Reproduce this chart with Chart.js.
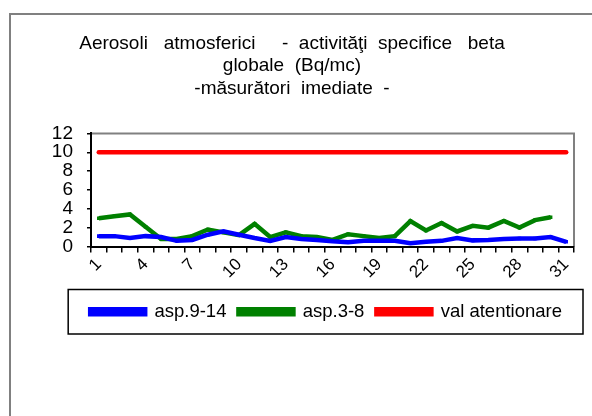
<!DOCTYPE html>
<html>
<head>
<meta charset="utf-8">
<script src="https://cdn.jsdelivr.net/npm/chart.js@4"></script>
<style>
  html, body { margin: 0; padding: 0; background: #fff; }
  #wrap { position: absolute; left: 0; top: 0; width: 592px; height: 416px; }
</style>
</head>
<body>
<div id="wrap"><canvas id="grafic" width="592" height="416"></canvas></div>
<script>
// zilele lunii
const days = [];
for (let d = 1; d <= 31; d++) days.push(String(d));

// titlul (spatiile largi ca in original)
const titleLines = [
    'Aerosoli   atmosferici     -  activităţi  specifice   beta',
    'globale  (Bq/mc)',
    '-măsurători  imediate  -'
];

// valori (Bq/mc)
const asp9_14 = [1.1, 1.1, 0.9, 1.1, 1.0, 0.6, 0.7, 1.25, 1.6, 1.25,
                 0.9, 0.6, 1.0, 0.8, 0.7, 0.55, 0.45, 0.6, 0.6, 0.6,
                 0.35, 0.5, 0.6, 0.9, 0.65, 0.7, 0.8, 0.85, 0.85, 1.0, 0.5];
const asp3_8 = [3.0, 3.2, 3.4, 2.1, 0.8, 0.8, 1.1, 1.8, 1.5, 1.2,
                2.4, 1.0, 1.5, 1.1, 1.0, 0.7, 1.3, 1.1, 0.9, 1.1,
                2.7, 1.7, 2.5, 1.6, 2.2, 2.0, 2.7, 2.0, 2.8, 3.1, null];
const valAtentionare = days.map(() => 10);

const yTicks = [0, 2, 4, 6, 8, 10, 12];

const FONT = 'Liberation Sans, Arial, sans-serif';

// cadru exterior + chenar zona grafic + chenar legenda
const frames = {
    id: 'frames',
    beforeDraw(chart) {
        const c = chart.ctx;
        c.save();
        c.strokeStyle = '#808080';
        c.lineWidth = 2;
        c.beginPath();
        c.moveTo(10, 416);
        c.lineTo(10, 14);
        c.lineTo(592, 14);
        c.stroke();

        const a = chart.chartArea;
        c.beginPath();
        c.moveTo(a.left, a.top);
        c.lineTo(a.right, a.top);
        c.lineTo(a.right, a.bottom);
        c.stroke();

        const boxes = chart.legend.legendHitBoxes;
        if (boxes && boxes.length) {
            let l = Infinity, r = -Infinity, t = Infinity, b = -Infinity;
            boxes.forEach(h => {
                l = Math.min(l, h.left); r = Math.max(r, h.left + h.width);
                t = Math.min(t, h.top); b = Math.max(b, h.top + h.height);
            });
            c.lineWidth = 1.5;
            c.strokeStyle = '#000';
            c.strokeRect(l - 22, t - 13, (r - l) + 43, (b - t) + 26);
        }
        c.restore();
    }
};

new Chart(document.getElementById('grafic'), {
    type: 'line',
    data: {
        labels: days,
        datasets: [
            {
                label: 'asp.9-14',
                data: asp9_14,
                borderColor: '#0000ff',
                backgroundColor: '#0000ff',
                borderWidth: 4.5,
                pointStyle: 'rect',
                pointRadius: 2.5,
                pointBorderWidth: 0,
                tension: 0
            },
            {
                label: 'asp.3-8',
                data: asp3_8,
                borderColor: '#008000',
                backgroundColor: '#008000',
                borderWidth: 4.5,
                pointStyle: 'rect',
                pointRadius: 2.5,
                pointBorderWidth: 0,
                tension: 0
            },
            {
                label: 'val atentionare',
                data: valAtentionare,
                borderColor: '#ff0000',
                backgroundColor: '#ff0000',
                borderWidth: 4.5,
                borderCapStyle: 'round',
                pointRadius: 0,
                tension: 0
            }
        ]
    },
    options: {
        responsive: false,
        animation: false,
        events: [],
        layout: { padding: { left: 10, right: 18, top: 0, bottom: 85 } },
        plugins: {
            title: {
                display: true,
                text: titleLines,
                color: '#000',
                font: { family: FONT, size: 19, weight: 'normal', lineHeight: 1.2 },
                padding: { top: 32, bottom: 33 }
            },
            legend: {
                position: 'bottom',
                align: 'end',
                labels: {
                    color: '#000',
                    font: { family: FONT, size: 18.5 },
                    boxWidth: 55,
                    boxHeight: 5,
                    padding: 12
                }
            },
            tooltip: { enabled: false }
        },
        scales: {
            x: {
                offset: true,
                grid: { offset: true, drawOnChartArea: false, tickLength: 6, color: '#000', lineWidth: 1.5 },
                border: { color: '#000', width: 2 },
                ticks: {
                    autoSkip: false,
                    minRotation: 45,
                    maxRotation: 45,
                    padding: 2,
                    color: '#000',
                    font: { family: FONT, size: 17 },
                    callback: function (v, i) { return i % 3 === 0 ? days[i] : ''; }
                },
                afterFit: function (s) { s.height = 44; }
            },
            y: {
                min: 0,
                max: 12,
                afterBuildTicks: function (s) { s.ticks = yTicks.map(v => ({ value: v })); },
                grid: { drawOnChartArea: false, tickLength: 4, color: '#000', lineWidth: 1.5 },
                border: { color: '#000', width: 2 },
                ticks: {
                    autoSkip: false,
                    padding: 14,
                    color: '#000',
                    font: { family: FONT, size: 19 }
                },
                afterFit: function (s) { s.width = 81; }
            }
        }
    },
    plugins: [frames]
});
</script>
</body>
</html>
